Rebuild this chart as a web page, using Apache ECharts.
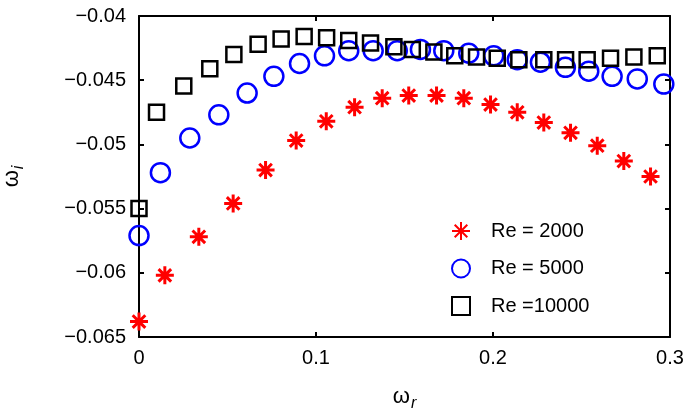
<!DOCTYPE html>
<html>
<head>
<meta charset="utf-8">
<script src="https://cdn.jsdelivr.net/npm/echarts@6/dist/echarts.min.js"></script>
<style>
  html, body { margin: 0; padding: 0; background: #fff; }
  #chart { width: 685px; height: 413px; }
</style>
</head>
<body>
<div id="chart"></div>
<script>
// omega_r / omega_i pairs
const re2000 = [
  [0, -0.0638], [0.0146, -0.0602], [0.0338, -0.0572], [0.0532, -0.0546], [0.0715, -0.0520],
  [0.0888, -0.0497], [0.1058, -0.0482], [0.1218, -0.0471], [0.1374, -0.0464], [0.1524, -0.0462],
  [0.1681, -0.0462], [0.1835, -0.0464], [0.1986, -0.0469], [0.2137, -0.0475], [0.2287, -0.0483],
  [0.2438, -0.0491], [0.2589, -0.0501], [0.2739, -0.0513], [0.2890, -0.0525]
];
const re5000 = [
  [0, -0.0571], [0.0121, -0.0522], [0.0287, -0.0495], [0.0451, -0.0477], [0.0611, -0.0460],
  [0.0762, -0.0447], [0.0907, -0.0437], [0.1048, -0.0431], [0.1185, -0.0427], [0.1323, -0.0427],
  [0.1459, -0.0427], [0.1590, -0.0426], [0.1722, -0.0427], [0.1863, -0.0429], [0.2004, -0.0431],
  [0.2137, -0.0434], [0.2268, -0.0436], [0.2409, -0.0440], [0.2541, -0.0443], [0.2673, -0.0447],
  [0.2815, -0.0449], [0.2965, -0.0453]
];
const re10000 = [
  [0, -0.0550], [0.0099, -0.0475], [0.0253, -0.04545], [0.0400, -0.0441], [0.0536, -0.0430],
  [0.0673, -0.0422], [0.0803, -0.0418], [0.0933, -0.0416], [0.1060, -0.0417], [0.1185, -0.0419],
  [0.1308, -0.0421], [0.1440, -0.0424], [0.1544, -0.0426], [0.1666, -0.0428], [0.1784, -0.0431],
  [0.1907, -0.0432], [0.2024, -0.0433], [0.2146, -0.0434], [0.2287, -0.0434], [0.2410, -0.0434],
  [0.2532, -0.0434], [0.2664, -0.0433], [0.2796, -0.0432], [0.2928, -0.0431]
];
const seriesNames = ['Re = 2000', 'Re = 5000', 'Re =10000'];
const xTickLabels = ['0', '0.1', '0.2', '0.3'];
const yTickLabels = ['\u22120.065', '\u22120.06', '\u22120.055', '\u22120.05', '\u22120.045', '\u22120.04'];

const FONT = '"Liberation Sans", Arial, Helvetica, sans-serif';
const X_MIN = 0, X_MAX = 0.3, X_STEP = 0.1;
const Y_MIN = -0.065, Y_MAX = -0.04, Y_STEP = 0.005;
const STAR = 'path://M10,0L10,20M0,10L20,10M3,3L17,17M3,17L17,3';

const chart = echarts.init(document.getElementById('chart'));

const frameLine = { show: true, onZero: false, lineStyle: { color: '#000', width: 2 } };
const innerTick = { show: true, inside: true, length: 5, lineStyle: { color: '#000', width: 2 } };
const subName = {
  w: { fontSize: 22, fontFamily: FONT, color: '#000' },
  s: { fontSize: 16, fontStyle: 'italic', fontFamily: FONT, color: '#000', padding: [15, 0, 0, 1] }
};

chart.setOption({
  animation: false,
  backgroundColor: '#fff',
  textStyle: { fontFamily: FONT },
  grid: { left: 139, right: 15, top: 16, bottom: 76, containLabel: false, outerBoundsMode: 'none' },
  legend: {
    orient: 'vertical',
    left: 446,
    top: 216,
    itemWidth: 18,
    itemHeight: 18,
    itemGap: 17.5,
    textStyle: { color: '#000', fontSize: 20, fontFamily: FONT, padding: [0, 0, 0, 16] },
    data: seriesNames
  },
  xAxis: [{
    type: 'value', min: X_MIN, max: X_MAX, interval: X_STEP,
    axisLine: frameLine, axisTick: innerTick, splitLine: { show: false },
    axisLabel: {
      color: '#000', fontSize: 20, fontFamily: FONT, margin: 11,
      formatter: v => xTickLabels[Math.round((v - X_MIN) / X_STEP)]
    },
    name: '{w|\u03c9}{s|r}',
    nameLocation: 'middle',
    nameGap: 44,
    nameTextStyle: { rich: subName }
  }, {
    type: 'value', position: 'top', min: X_MIN, max: X_MAX, interval: X_STEP,
    axisLine: frameLine, axisTick: innerTick, splitLine: { show: false },
    axisLabel: { show: false }
  }],
  yAxis: [{
    type: 'value', min: Y_MIN, max: Y_MAX, interval: Y_STEP,
    axisLine: frameLine, axisTick: innerTick, splitLine: { show: false },
    axisLabel: {
      color: '#000', fontSize: 20, fontFamily: FONT, margin: 13,
      formatter: v => yTickLabels[Math.round((v - Y_MIN) / Y_STEP)]
    },
    name: '{w|\u03c9}{s|i}',
    nameLocation: 'middle',
    nameGap: 112,
    nameRotate: 90,
    nameTextStyle: { rich: subName }
  }, {
    type: 'value', position: 'right', min: Y_MIN, max: Y_MAX, interval: Y_STEP,
    axisLine: frameLine, axisTick: innerTick, splitLine: { show: false },
    axisLabel: { show: false }
  }],
  series: [{
    name: seriesNames[0], type: 'scatter', data: re2000,
    symbol: STAR, symbolSize: 18,
    itemStyle: { color: 'rgba(0,0,0,0)', borderColor: '#ff0000', borderWidth: 3, opacity: 1 }
  }, {
    name: seriesNames[1], type: 'scatter', data: re5000,
    symbol: 'circle', symbolSize: 19,
    itemStyle: { color: 'rgba(0,0,0,0)', borderColor: '#0000ff', borderWidth: 2.5, opacity: 1 }
  }, {
    name: seriesNames[2], type: 'scatter', data: re10000,
    symbol: 'rect', symbolSize: 15,
    itemStyle: { color: 'rgba(0,0,0,0)', borderColor: '#000000', borderWidth: 2.5, opacity: 1 }
  }]
});
</script>
</body>
</html>
